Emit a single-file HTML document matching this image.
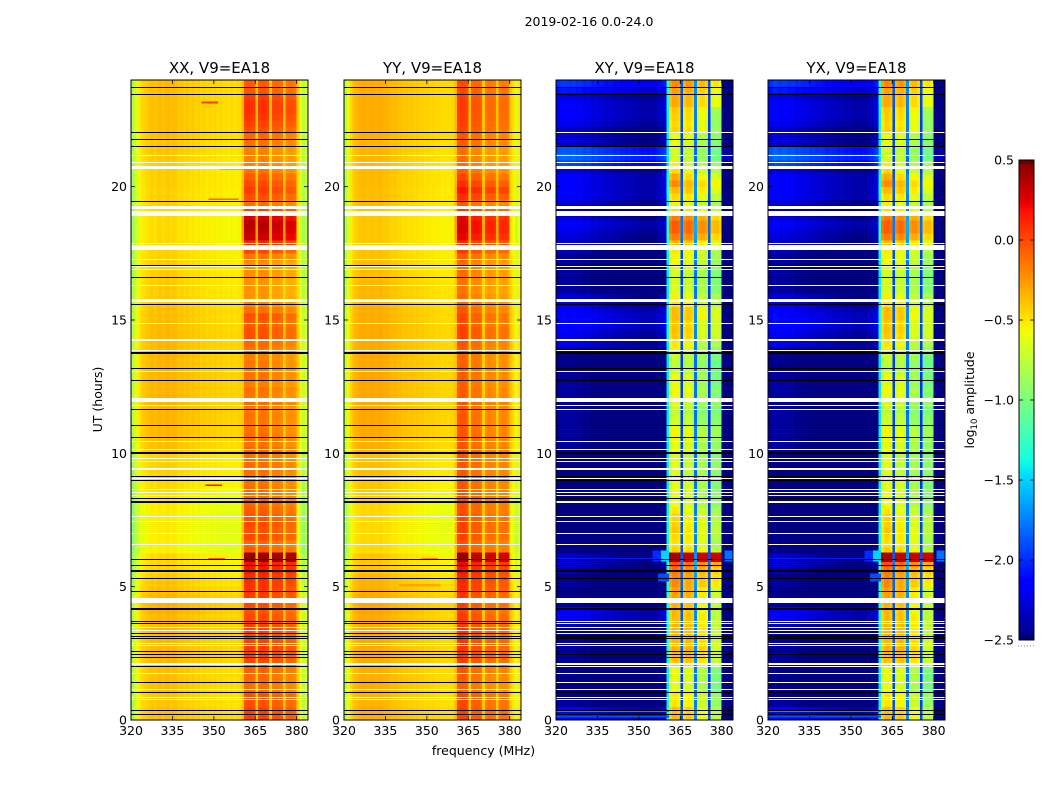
<!DOCTYPE html>
<html lang="en">
<head>
<meta charset="utf-8">
<title>2019-02-16 0.0-24.0</title>
<style>
html,body{margin:0;padding:0;background:#fff;width:1050px;height:800px;overflow:hidden}
svg{display:block}
text{font-family:"DejaVu Sans","Liberation Sans",sans-serif;fill:#000}
</style>
</head>
<body>
<svg id="chart" xmlns="http://www.w3.org/2000/svg" width="1050" height="800" viewBox="0 0 1050 800">
<rect x="0" y="0" width="1050" height="800" fill="#fff"/>
<text x="589" y="26" text-anchor="middle" font-size="12.5">2019-02-16 0.0-24.0</text>
<text x="483.5" y="755" text-anchor="middle" font-size="12.5">frequency (MHz)</text>
<text transform="translate(102,399.5) rotate(-90)" text-anchor="middle" font-size="12.5">UT (hours)</text>
<text transform="translate(974,400) rotate(-90)" text-anchor="middle" font-size="12.5">log<tspan font-size="8.5" dy="3">10</tspan><tspan dy="-3"> amplitude</tspan></text>
<g id="panels"></g>
<g id="colorbar"></g>
</svg>
<script>
// ---- categories / ticks ----
const freqBins = [320,321,322,323,324,325,326,327,328,329,330,331,332,333,334,335,336,337,338,339,340,341,342,343,344,345,346,347,348,349,350,351,352,353,354,355,356,357,358,359,360,361,362,363,364,365,366,367,368,369,370,371,372,373,374,375,376,377,378,379,380,381,382,383];
const freqTicks = [320,335,350,365,380];
const hourTicks = [0,5,10,15,20];
const cbTicks = [0.5,0.0,-0.5,-1.0,-1.5,-2.0,-2.5];
const panelNames = ['XX, V9=EA18','YY, V9=EA18','XY, V9=EA18','YX, V9=EA18'];
const bandGroups = [[41,42,43,44],[46,47,48,49],[51,52,53,54],[56,57,58,59]];
const gapBins = [40,45,50,55];

// ---- mean spectra (log10 amplitude) ----
const xxSpectrum = [-.85,-.68,-.56,-.48,-.44,-.42,-.40,-.37,-.40,-.38,-.36,-.39,-.37,-.35,-.38,-.36,-.38,-.41,-.39,-.42,-.40,-.43,-.41,-.44,-.42,-.45,-.43,-.46,-.44,-.46,-.44,-.47,-.45,-.47,-.46,-.48,-.46,-.48,-.47,-.46,-.38,-.04,-.03,-.03,-.05,-.4,-.05,-.02,-.03,-.06,-.4,-.10,-.08,-.08,-.11,-.4,-.14,-.12,-.12,-.16,-.42,-.58,-.78,-.62];
const yySpectrum = [-.75,-.58,-.46,-.38,-.35,-.33,-.32,-.31,-.33,-.32,-.31,-.33,-.32,-.31,-.34,-.33,-.35,-.37,-.36,-.38,-.38,-.40,-.39,-.41,-.40,-.42,-.41,-.43,-.42,-.44,-.43,-.45,-.44,-.46,-.45,-.47,-.46,-.47,-.47,-.45,-.36,.0,.02,.02,-.02,-.4,-.08,-.06,-.07,-.1,-.4,-.16,-.13,-.13,-.16,-.4,-.16,-.14,-.14,-.18,-.42,-.5,-.65,-.5];
const xySpectrum = [-2.4,-2.38,-2.36,-2.36,-2.38,-2.38,-2.36,-2.4,-2.38,-2.4,-2.43,-2.4,-2.43,-2.46,-2.43,-2.48,-2.46,-2.48,-2.5,-2.48,-2.5,-2.53,-2.5,-2.54,-2.53,-2.56,-2.54,-2.56,-2.58,-2.56,-2.58,-2.6,-2.58,-2.6,-2.58,-2.6,-2.56,-2.54,-2.5,-2.45,-1.4,-.58,-.5,-.5,-.55,-1.9,-.62,-.55,-.55,-.62,-1.75,-.72,-.66,-.66,-.72,-1.95,-.9,-.85,-.85,-.92,-2.9,-2.9,-2.9,-2.9];
const yxSpectrum = [-2.4,-2.38,-2.34,-2.36,-2.38,-2.36,-2.36,-2.4,-2.38,-2.38,-2.43,-2.4,-2.43,-2.44,-2.43,-2.48,-2.46,-2.48,-2.48,-2.48,-2.5,-2.53,-2.5,-2.53,-2.53,-2.56,-2.54,-2.56,-2.58,-2.56,-2.58,-2.6,-2.58,-2.6,-2.58,-2.6,-2.56,-2.54,-2.5,-2.45,-1.4,-.58,-.5,-.5,-.55,-1.9,-.62,-.55,-.55,-.62,-1.75,-.72,-.66,-.66,-.72,-1.95,-.9,-.85,-.85,-.92,-2.9,-2.9,-2.9,-2.9];

// ---- per quarter-hour gains, hour 0 upward ----
const xxBandGain = [.06,.06,.02,.02,-.08,-.08,-.06,-.04,.04,.06,.08,.06,.04,.06,.06,.04,.0,.04,.08,.1,.12,.14,.2,.22,.1,-.02,-.06,.04,.02,.04,0,-.02,-.05,-.08,-.07,-.09,-.09,-.08,-.07,-.09,-.05,-.09,-.07,-.09,-.11,-.09,-.11,-.07,-.11,-.09,-.13,-.09,-.11,-.11,-.13,-.09,-.06,.02,.02,-.02,.02,-.08,-.16,-.2,-.2,-.2,-.18,-.18,-.18,-.1,.04,.14,.34,.38,.4,.32,.06,-.08,.02,.08,.04,-.02,-.1,-.14,-.14,-.14,-.08,-.06,.02,.06,.1,.12,.12,.08,0,-.02];
const yyBandGain = [.02,.02,0,0,-.08,-.08,-.06,-.04,.02,.04,.05,.05,.04,.05,.04,.04,.0,.02,.05,.08,.1,.12,.16,.2,.08,-.02,-.04,.02,.02,.02,0,-.02,-.02,-.04,-.04,-.05,-.05,-.05,-.04,-.05,-.02,-.05,-.04,-.05,-.06,-.05,-.06,-.04,-.06,-.06,-.08,-.06,-.06,-.08,-.08,-.06,-.04,.02,.02,-.02,.0,-.05,-.1,-.12,-.14,-.14,-.12,-.12,-.12,-.06,.04,.1,.22,.26,.26,.22,.05,-.06,.08,.16,.08,.0,-.08,-.12,-.12,-.12,-.06,-.05,.0,.02,.03,.04,.04,.02,0,-.02];
const xyBandGain = [.1,.08,-.05,-.05,-.12,-.1,-.1,-.08,.05,.1,.12,.1,.12,.12,.1,.1,.08,.1,.15,.15,.2,.22,.28,.4,.15,.08,.02,.05,.05,.02,.02,-.05,-.08,-.1,-.1,-.12,-.15,-.12,-.12,-.15,-.1,-.12,-.05,-.05,-.1,-.15,-.2,-.1,-.12,-.1,-.15,-.12,-.2,-.2,-.15,-.1,-.05,.05,.08,.05,.1,.1,-.05,-.08,-.1,-.12,-.12,-.1,-.08,-.05,.0,.15,.3,.4,.4,.3,.05,-.05,.05,.15,.15,.05,-.1,-.18,-.18,-.18,-.1,-.08,-.02,-.05,-.02,.0,.05,.05,.08,.15];
const yxBandGain = [.1,.08,-.05,-.05,-.12,-.1,-.1,-.08,.05,.1,.12,.1,.12,.12,.1,.1,.08,.1,.15,.15,.2,.22,.28,.4,.15,.08,.02,.05,.05,.02,.02,-.05,-.08,-.1,-.1,-.12,-.15,-.12,-.12,-.15,-.1,-.12,-.05,-.05,-.1,-.15,-.2,-.1,-.12,-.1,-.15,-.12,-.2,-.2,-.15,-.1,-.05,.05,.08,.05,.1,.1,-.05,-.08,-.1,-.12,-.12,-.1,-.08,-.05,.0,.15,.3,.4,.4,.3,.05,-.05,.05,.15,.15,.05,-.1,-.18,-.18,-.18,-.1,-.08,-.02,-.05,-.02,.0,.05,.05,.08,.15];
const xxLowGain = [0,0,-.02,-.02,0,0,0,0,.02,.02,.02,.02,.02,.02,.02,.02,.04,.04,.02,0,-.02,-.04,-.08,-.08,-.08,-.16,-.16,-.15,-.15,-.15,-.15,-.14,-.14,-.12,-.1,-.08,-.07,-.06,-.06,-.06,0,0,.02,.02,.03,.03,.03,.02,.03,.03,.03,.03,.03,.03,.03,.02,.02,.02,.01,.01,0,0,-.02,-.04,-.04,-.04,-.05,-.05,-.05,-.06,-.07,-.08,-.09,-.09,-.09,-.09,-.08,-.06,-.06,-.06,-.05,-.05,-.05,-.05,-.03,-.02,-.02,-.01,0,0,0,0,0,0,0,0];
const yyLowGain = [0,0,-.02,-.02,0,0,0,0,.01,.01,.01,.01,.01,.01,.01,.01,.02,.02,.01,0,-.02,-.03,-.08,-.08,-.08,-.14,-.14,-.14,-.14,-.14,-.14,-.13,-.13,-.1,-.08,-.08,-.06,-.05,-.05,-.05,0,0,.01,.01,.02,.02,.02,.01,.02,.02,.02,.02,.02,.02,.02,.01,.01,.01,.01,.01,0,0,-.02,-.03,-.03,-.03,-.05,-.05,-.05,-.06,-.07,-.08,-.08,-.08,-.08,-.08,-.07,-.05,-.05,-.05,-.04,-.04,-.04,-.04,-.02,-.02,-.02,-.01,0,0,0,0,0,0,0,0];
const xyLowGain = [.25,.2,-.05,-.1,-.1,-.1,-.1,-.1,-.05,-.05,-.05,-.05,-.05,-.1,.05,.2,.2,-.05,-.1,-.1,-.05,-.1,0,.1,.05,-.1,-.1,-.1,-.15,-.15,-.15,-.15,-.15,-.15,-.15,-.15,-.15,-.15,-.15,-.15,-.05,-.05,-.05,-.05,-.05,-.05,-.05,-.05,-.05,-.05,-.05,-.05,-.1,-.1,-.1,-.1,.15,.15,.2,.25,.25,.2,.15,.1,-.05,-.05,-.05,-.05,-.05,-.05,0,.1,.1,.15,.2,.1,0,.1,.2,.2,.2,.2,.1,.45,.55,.5,.1,.1,.05,.15,.2,.2,.2,.15,.3,.4];
const yxLowGain = [.25,.2,-.05,-.1,-.1,-.1,-.1,-.1,-.05,-.05,-.05,-.05,-.05,-.1,.05,.2,.2,-.05,-.1,-.1,-.05,-.1,0,.1,.05,-.1,-.1,-.1,-.15,-.15,-.15,-.15,-.15,-.15,-.15,-.15,-.15,-.15,-.15,-.15,-.05,-.05,-.05,-.05,-.05,-.05,-.05,-.05,-.05,-.05,-.05,-.05,-.1,-.1,-.1,-.1,.15,.15,.2,.25,.25,.2,.15,.1,-.05,-.05,-.05,-.05,-.05,-.05,0,.1,.1,.15,.2,.1,0,.1,.2,.2,.2,.2,.1,.45,.55,.5,.1,.1,.05,.15,.2,.2,.2,.15,.3,.4];

// ---- per-hour offsets for the four sub-bands of the cross-hands ----
const xpolSubGain = [[.05,.05,0,0],[0,0,-.05,-.05],[.05,.1,.1,.05],[.05,.08,.05,0],[.08,.08,0,0],[.1,.05,.05,.15],[0,0,0,0],[.05,0,0,.05],[0,0,-.05,0],[0,-.05,-.05,.05],[0,0,-.05,.05],[-.05,-.05,-.1,.05],[.05,.05,-.05,0],[-.05,-.05,-.05,0],[.05,.05,-.05,.1],[.05,.05,0,.1],[-.05,-.05,-.05,0],[0,0,0,.05],[.05,.05,.05,.1],[0,0,0,.05],[.15,.05,.05,.15],[0,0,-.05,0],[.1,.1,.1,0],[.15,.15,.15,.2]];

// ---- short interference streaks: hour from, hour to, MHz from, MHz to, value ----
const xxStreaks = [[23.12,23.2,345.5,351.5,.05],[19.5,19.56,348,359,-.1],[20.65,20.72,352,361,-.12],[8.78,8.84,347,353,.2],[6.0,6.08,348,354,-.05],[5.92,6.28,361,365,.44],[5.92,6.28,366,370,.42],[5.92,6.28,371,375,.4],[5.92,6.28,376,380,.38]];
const yyStreaks = [[6.0,6.08,348,354,-.2],[5.0,5.1,340,355,-.3],[5.92,6.28,361,365,.44],[5.92,6.28,366,370,.32],[5.92,6.28,371,375,.28],[5.92,6.28,376,380,.28]];
const xyStreaks = [[6.0,6.08,320,355,-2.05],[5.95,6.35,355,358,-2.0],[5.95,6.35,358,361,-1.5],[5.95,6.35,381,384,-1.8],[5.2,5.5,357,361,-1.9],[20.7,20.76,350,361,-.7],[0.3,0.36,320,361,-1.7],[0.1,0.16,320,361,-1.9],[5.92,6.28,361,365,.4],[5.92,6.28,366,370,.33],[5.92,6.28,371,375,.3],[5.92,6.28,376,380,.28]];
const yxStreaks = [[6.0,6.08,320,355,-2.05],[5.95,6.35,355,358,-2.0],[5.95,6.35,358,361,-1.5],[5.95,6.35,381,384,-1.8],[5.2,5.5,357,361,-1.9],[0.3,0.36,320,361,-1.7],[0.1,0.16,320,361,-1.9],[5.92,6.28,361,365,.4],[5.92,6.28,366,370,.33],[5.92,6.28,371,375,.3],[5.92,6.28,376,380,.28]];

// ---- flagged rows in UT hours ----
const blackLines = [23.73,23.46,22.04,21.78,21.51,19.45,17.05,16.6,15.57,13.19,12.74,11.64,11.05,10.6,9.14,8.99,8.31,6.03,5.8,5.31,4.83,3.7,3.63,3.24,3.15,3.06,2.58,2.45,2.36,2.0,1.39,1.04,.36,.2];
const thickBlackLines = [13.76,10.01,8.16,5.59,4.16];
const xpolWhiteNotBlack = [22.04,11.64,8.16,3.63,3.7,3.24,2.0,1.39];
const whiteGaps = [[21.2,21.16],[20.93,20.89],[20.76,20.66],[19.29,19.16],[19.09,18.9],[17.88,17.84],[17.81,17.63],[17.27,17.23],[17.01,16.97],[16.93,16.89],[16.3,16.26],[15.8,15.68],[14.9,14.86],[14.27,14.21],[13.89,13.84],[13.1,13.06],[12.08,11.93],[11.82,11.78],[10.47,10.43],[10.17,10.13],[9.82,9.78],[9.7,9.66],[9.45,9.38],[9.08,9.04],[8.65,8.61],[8.56,8.52],[8.45,8.41],[7.64,7.6],[7.45,7.41],[7.02,6.98],[6.61,6.57],[4.58,4.43],[4.41,4.37],[3.47,3.43],[3.38,3.34],[2.9,2.86],[2.83,2.79],[2.14,2.08],[1.77,1.73],[1.15,1.11],[.88,.84],[.77,.73]];

// ---- axis functions ----
const plotTop = 80, plotBottom = 720, plotWidth = 177;
const panelLefts = [131,344,556,768];
const xScale = (left, f) => left + (f - 320) * plotWidth / 64.1;
const yScale = h => plotBottom - h * (plotBottom - plotTop) / 24;
const cbTop = 160, cbBottom = 640, cbLeft = 1019, cbRight = 1034;
const cbScale = v => cbTop + (0.5 - v) * (cbBottom - cbTop) / 3;

function seg(points, t){
  for(let i = 1; i < points.length; i++){
    if(t <= points[i][0]){
      const a = points[i-1], b = points[i];
      return a[1] + (b[1]-a[1]) * (t-a[0]) / (b[0]-a[0]);
    }
  }
  return points[points.length-1][1];
}
const jetR = [[0,0],[.35,0],[.66,1],[.89,1],[1,.5]];
const jetG = [[0,0],[.125,0],[.375,1],[.64,1],[.91,0],[1,0]];
const jetB = [[0,.5],[.11,1],[.34,1],[.65,0],[1,0]];
function jet(v){
  const t = Math.max(0, Math.min(1, (v + 2.5) / 3));
  const c = p => Math.round(255 * seg(p, t));
  return 'rgb(' + c(jetR) + ',' + c(jetG) + ',' + c(jetB) + ')';
}

const NS = 'http://www.w3.org/2000/svg';
function mk(tag, parent, attrs){
  const el = document.createElementNS(NS, tag);
  for(const k in attrs) el.setAttribute(k, attrs[k]);
  parent.appendChild(el);
  return el;
}

const spectra = [xxSpectrum, yySpectrum, xySpectrum, yxSpectrum];
const bandGains = [xxBandGain, yyBandGain, xyBandGain, yxBandGain];
const lowGains = [xxLowGain, yyLowGain, xyLowGain, yxLowGain];
const streaks = [xxStreaks, yyStreaks, xyStreaks, yxStreaks];
const panelsG = document.getElementById('panels');

panelNames.forEach((title, p) => {
  const left = panelLefts[p];
  const right = left + plotWidth;
  const g = mk('g', panelsG, {});
  
  

  const heat = mk('g', g, {'shape-rendering':'crispEdges'});
  
  

  const rows = bandGains[p].length;
  for(let r = 0; r < rows; r++){
    const h0 = r * 24 / rows, h1 = (r + 1) * 24 / rows;
    const yTop = yScale(h1), yBot = yScale(h0);
    freqBins.forEach((f, i) => {
      let v = spectra[p][i];
      const sb = bandGroups.findIndex(b => b.includes(i));
      if(sb >= 0){
        v += bandGains[p][r];
        if(p >= 2) v += xpolSubGain[Math.floor(h0)][sb];
      } else if(gapBins.includes(i)) v += bandGains[p][r] * 0.35;
      else v += lowGains[p][r];
      const x0 = xScale(left, f), x1 = xScale(left, f + 1);
      const cell = mk('rect', heat, {x:x0.toFixed(2), y:yTop.toFixed(2), width:(x1-x0+.3).toFixed(2), height:(yBot-yTop+.3).toFixed(2), fill:jet(v)});
      
      
    });
  }

  streaks[p].forEach(s => {
    const y0 = yScale(s[1]), y1 = yScale(s[0]);
    const st = mk('rect', heat, {x:xScale(left,s[2]).toFixed(2), y:y0.toFixed(2), width:(xScale(left,s[3])-xScale(left,s[2])).toFixed(2), height:Math.max(1,y1-y0).toFixed(2), fill:jet(s[4])});
    
    
  });

  whiteGaps.forEach(w => {
    const y0 = yScale(w[0]), y1 = yScale(w[1]);
    const gap = mk('rect', heat, {x:left, y:Math.round(y0), width:plotWidth, height:Math.max(1,Math.round(y1-y0)), fill:'#fff'});
    
    
  });

  const drawLine = (h, px) => {
    const white = p >= 2 && xpolWhiteNotBlack.includes(h);
    const ln = mk('rect', heat, {x:left, y:Math.round(yScale(h) - px/2), width:plotWidth, height:px, fill:white ? '#fff' : '#000'});
    
    
  };
  blackLines.forEach(h => drawLine(h, 1));
  thickBlackLines.forEach(h => drawLine(h, 2));

  // frame
  const frame = mk('rect', g, {x:left, y:plotTop, width:plotWidth, height:plotBottom-plotTop, fill:'none', stroke:'#000', 'stroke-width':1});
  
  

  // title
  const tt = mk('text', g, {x:left + plotWidth/2, y:73, 'text-anchor':'middle', 'font-size':'15'});
  tt.textContent = title;
  
  

  // x ticks
  freqTicks.forEach(f => {
    const x = xScale(left, f);
    [[plotBottom, plotBottom-4],[plotTop, plotTop+4]].forEach(e => {
      const t = mk('line', g, {x1:x, x2:x, y1:e[0], y2:e[1], stroke:'#000', 'stroke-width':.8});
      
      
    });
    const lb = mk('text', g, {x:x, y:735, 'text-anchor':'middle', 'font-size':'12.5'});
    lb.textContent = f;
    
    
  });

  // y ticks
  hourTicks.forEach(h => {
    const y = yScale(h);
    [[left, left+4],[right, right-4]].forEach(e => {
      const t = mk('line', g, {x1:e[0], x2:e[1], y1:y, y2:y, stroke:'#000', 'stroke-width':.8});
      
      
    });
    const lb = mk('text', g, {x:left-4, y:y+4.5, 'text-anchor':'end', 'font-size':'12.5'});
    lb.textContent = h;
    
    
  });
});

// ---- colorbar ----
const cb = document.getElementById('colorbar');
const cbG = mk('g', cb, {'shape-rendering':'crispEdges'});
for(let y = cbTop; y < cbBottom; y += 2){
  const s = mk('rect', cbG, {x:cbLeft, y:y, width:cbRight-cbLeft, height:2.3, fill:jet(0.5 - (y + 1 - cbTop) * 3 / (cbBottom - cbTop))});
  
  
}
const cbFrame = mk('rect', cb, {x:cbLeft, y:cbTop, width:cbRight-cbLeft, height:cbBottom-cbTop, fill:'none', stroke:'#000', 'stroke-width':1});


cbTicks.forEach(v => {
  const y = cbScale(v);
  [[cbLeft, cbLeft+4],[cbRight, cbRight-4]].forEach(e => {
    const t = mk('line', cb, {x1:e[0], x2:e[1], y1:y, y2:y, stroke:'#000', 'stroke-width':.8});
    
    
  });
  const lb = mk('text', cb, {x:1014, y:y+4.5, 'text-anchor':'end', 'font-size':'12.5'});
  lb.textContent = v.toFixed(1).replace('-', '\u2212');
  
  
});
[1021,1024,1027,1030,1032].forEach(x => {
  [[cbTop, cbTop+4],[cbBottom, cbBottom-4]].forEach(e => {
    const t = mk('line', cb, {x1:x, x2:x, y1:e[0], y2:e[1], stroke:'#000', 'stroke-width':.6});
    
    
  });
});
const dots = mk('line', cb, {x1:1018, x2:1034, y1:646, y2:646, stroke:'#888', 'stroke-width':1, 'stroke-dasharray':'1 2'});


</script>
</body>
</html>
